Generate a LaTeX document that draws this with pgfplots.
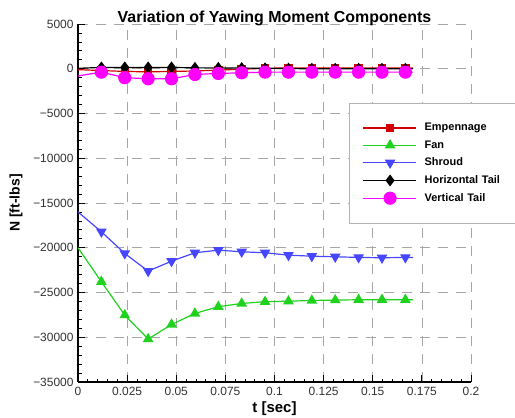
\documentclass[border=0pt]{standalone}
\usepackage{pgfplots}
\pgfplotsset{compat=1.18}
\usepackage{pgfplotstable}
\usepackage{fontspec}
\setmainfont{Liberation Sans}
\setsansfont{Liberation Sans}
\definecolor{cemp}{RGB}{210,0,0}
\definecolor{cfan}{RGB}{30,210,30}
\definecolor{cshr}{RGB}{70,70,255}
\definecolor{cvt}{RGB}{255,0,255}
\pgfplotstableread{
t emp fan shr ht vt
0      -100  -20000 -16000  50  -800
0.0119 -200  -23800 -18210 150  -380
0.0238 -300  -27530 -20640 150 -1000
0.0357 -350  -30200 -22610 150 -1120
0.0476 -300  -28570 -21500 150 -1120
0.0595 -250  -27340 -20560 100  -640
0.0714 -150  -26590 -20270 100  -525
0.0833 -50   -26220 -20450  80  -450
0.0952 50    -26030 -20560  50  -380
0.1071 100   -25970 -20830  20  -380
0.1190 100   -25890 -20940   0  -380
0.1309 100   -25850 -21010   0  -380
0.1428 100   -25810 -21080   0  -380
0.1547 100   -25810 -21120   0  -380
0.1666 100   -25810 -21080   0  -380
0.1705 100   -25810 -21080   0  -380
}\datatab
\begin{document}
\begin{tikzpicture}
\useasboundingbox (0,0) rectangle (515bp,418bp);
\begin{axis}[
  at={(78bp,36bp)}, anchor=south west,
  scale only axis, width=393bp, height=358bp,
  xmin=0, xmax=0.2, ymin=-35000, ymax=5000,
  axis x line=bottom, axis y line=left,
  axis line style={-, line width=1.2pt},
  xtick={0,0.025,...,0.2},
  xticklabels={0,0.025,0.05,0.075,0.1,0.125,0.15,0.175,0.2},
  ytick={-35000,-30000,...,5000},
  yticklabels={−35000,−30000,−25000,−20000,−15000,−10000,−5000,0,5000},
  minor x tick num=4, minor y tick num=4,
  tick align=inside,
  major tick length=7bp, minor tick length=3.5bp,
  every tick/.style={black, line width=0.8pt},
  scaled x ticks=false, scaled y ticks=false,
  tick label style={font=\fontsize{12}{13}\selectfont, black!80},
  yticklabel style={xshift=-1bp},
  xticklabel style={yshift=-1.5bp},
  grid=major,
  major grid style={gray!70, dash pattern=on 10bp off 8bp, line width=0.7pt},
  title={\bfseries Variation of Yawing Moment Components},
  title style={font=\fontsize{16}{18}\selectfont, at={(0.5,1)}, anchor=base, yshift=-4bp},
  xlabel={\bfseries t [sec]},
  ylabel={\bfseries N [ft-lbs]},
  xlabel style={font=\fontsize{15}{17}\selectfont, at={(0.5,0)}, anchor=base, yshift=-30bp},
  ylabel style={font=\fontsize{14}{16}\selectfont, at={(axis description cs:-0.158,0.5)}, anchor=center},
  clip=false,
  legend style={at={(rel axis cs:0.69,0.779)}, anchor=north west,
    draw=gray!60, line width=0.6pt, font=\fontsize{11}{12}\selectfont\bfseries,
    inner xsep=10bp, inner ysep=18bp, row sep=4.3bp,
    text width=95bp},
  legend cell align=left,
  legend image code/.code={\path (0bp,0bp) (62bp,0bp);\draw[#1] plot coordinates {(3bp,0bp) (30bp,0bp)};\draw[#1,mark=none] (30bp,0bp) -- (56bp,0bp);},
]
\addplot[cemp, line width=1.2pt, mark=square*, mark size=3.6bp, mark indices={2,...,15}] table[x=t,y=emp]{\datatab};
\addlegendentry{Empennage}
\addplot[cfan, line width=1.2pt, mark=triangle*, mark size=5bp, mark indices={2,...,15}] table[x=t,y=fan]{\datatab};
\addlegendentry{Fan}
\addplot[cshr, line width=1.2pt, mark=triangle*, mark options={rotate=180}, mark size=5bp, mark indices={2,...,15}] table[x=t,y=shr]{\datatab};
\addlegendentry{Shroud}
\addplot[black, line width=1.2pt, mark=diamond*, mark size=5bp, mark indices={2,...,15}] table[x=t,y=ht]{\datatab};
\addlegendentry{Horizontal Tail}
\addplot[cvt, line width=1.2pt, mark=*, mark size=6bp, mark indices={2,...,15}] table[x=t,y=vt]{\datatab};
\addlegendentry{Vertical Tail}
\end{axis}
\end{tikzpicture}
\end{document}
